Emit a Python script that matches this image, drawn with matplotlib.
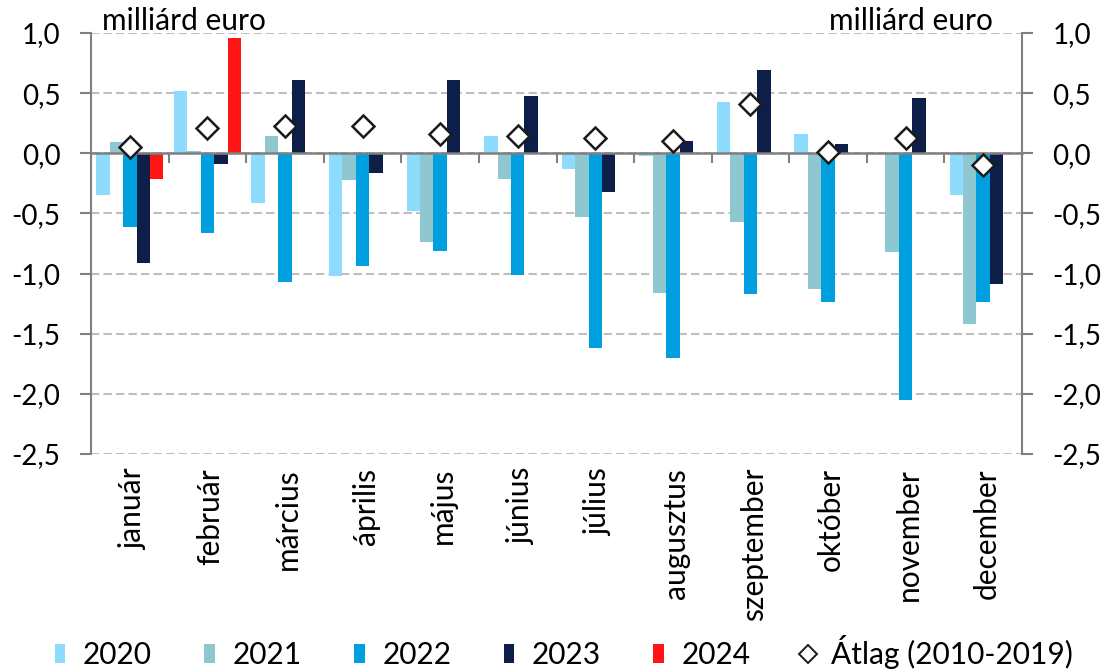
import numpy as np
import matplotlib
matplotlib.use("Agg")
import matplotlib.pyplot as plt
from matplotlib.patches import Patch
from matplotlib.lines import Line2D
import matplotlib.transforms as mtransforms

months = ["január", "február", "március", "április", "május", "június",
          "július", "augusztus", "szeptember", "október", "november", "december"]
y2020 = [-0.35, 0.52, -0.41, -1.02, -0.48, 0.14, -0.13, -0.02, 0.43, 0.16, 0.00, -0.35]
y2021 = [0.09, 0.02, 0.14, -0.22, -0.74, -0.21, -0.53, -1.16, -0.57, -1.13, -0.82, -1.42]
y2022 = [-0.61, -0.66, -1.07, -0.94, -0.81, -1.01, -1.62, -1.70, -1.17, -1.24, -2.05, -1.24]
y2023 = [-0.91, -0.09, 0.61, -0.16, 0.61, 0.48, -0.32, 0.10, 0.69, 0.08, 0.46, -1.09]
y2024 = [-0.21, 0.96]
avg = [0.05, 0.21, 0.23, 0.23, 0.16, 0.14, 0.125, 0.10, 0.41, 0.01, 0.13, -0.10]
series_names = ["2020", "2021", "2022", "2023", "2024"]
avg_name = "Átlag (2010-2019)"
yticks = [1.0, 0.5, 0.0, -0.5, -1.0, -1.5, -2.0, -2.5]
unit = "milliárd euro"

colors = ["#8EDCFD", "#8FC7D0", "#009FE0", "#0D1F48", "#FF1515"]

plt.rcParams['font.family'] = ['Lato', 'DejaVu Sans']
FS = 20
FS_TXT = 21.5

fig = plt.figure(figsize=(11.18, 6.71), dpi=100)
ax = fig.add_axes([91/1118, 1-454/671, (1022-91)/1118, (454-33)/671])

bw = 0.173
series = [y2020, y2021, y2022, y2023, y2024]
for i, (vals, c, name) in enumerate(zip(series, colors, series_names)):
    x = np.arange(len(vals)) + (i - 2) * bw
    ax.bar(x, vals, width=bw, color=c, linewidth=0, zorder=2, label=name)

ax.plot(np.arange(len(avg)), avg, linestyle='none', marker='D', markersize=11,
        markerfacecolor='white', markeredgecolor='#1a1a1a', markeredgewidth=1.8,
        zorder=5)

ax.set_xlim(-0.5, 11.5)
ax.set_ylim(-2.5, 1.0)
ax.set_yticks(yticks)
ax.set_yticklabels([f"{v:.1f}".replace('.', ',') for v in yticks])
ax.yaxis.set_ticks_position('both')
ax.tick_params(axis='y', which='both', labelleft=True, labelright=True,
               direction='out', length=8, width=1.5, color='#808080',
               labelsize=FS, pad=14, labelcolor='black')

ax.set_xticks(np.arange(-0.5, 12, 1))
ax.set_xticklabels([])
ax.tick_params(axis='x', direction='out', length=7, width=1.5, color='#808080')

ax.yaxis.grid(True, color='#BFBFBF', linestyle=(0, (4, 2)), linewidth=1.5)
ax.set_axisbelow(True)

ax.spines['top'].set_visible(False)
ax.spines['bottom'].set_position(('data', 0))
ax.spines['bottom'].set_color('#808080')
ax.spines['bottom'].set_linewidth(1.8)
ax.spines['bottom'].set_zorder(3)
for s in ['left', 'right']:
    ax.spines[s].set_color('#808080')
    ax.spines[s].set_linewidth(1.5)

trans = mtransforms.blended_transform_factory(ax.transData, ax.transAxes)
for i, m in enumerate(months):
    ax.text(i + 0.04, -0.033, m, transform=trans, rotation=90, ha='center', va='top',
            fontsize=FS_TXT, color='black')

fig.text(102/1118, 1-30/671, unit, fontsize=FS_TXT, ha='left', va='baseline')
fig.text(993/1118, 1-30/671, unit, fontsize=FS_TXT, ha='right', va='baseline')

handles = [Patch(facecolor=c, edgecolor='none') for c in colors]
handles.append(Line2D([], [], linestyle='none', marker='D', markersize=9,
                      markerfacecolor='white', markeredgecolor='#1a1a1a',
                      markeredgewidth=1.4))
labels = series_names + [avg_name]
fig.legend(handles, labels, loc='center', bbox_to_anchor=(0.5045, 1-652/671),
           ncol=6, frameon=False, fontsize=FS_TXT, handlelength=0.35,
           handleheight=0.65, handletextpad=0.6, columnspacing=1.75,
           borderpad=0, borderaxespad=0)

fig.savefig("out.png", dpi=100)
